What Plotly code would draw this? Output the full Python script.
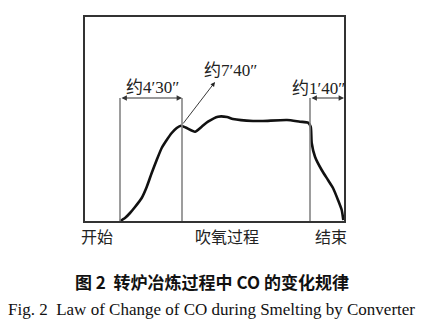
import plotly.graph_objects as go

# CO concentration curve during converter smelting (schematic units)
curve_x = [35, 40, 45, 50, 56.7, 61.7, 66.7, 71.7, 76.7, 81.7, 86.7, 91.7, 96, 101.7,
           110, 116.7, 123, 133, 142, 148, 168, 178, 202, 215, 223, 225.7, 226.7, 230,
           236.7, 243, 248, 253, 256.7, 258.3]
curve_y = [0, 3, 8, 14, 23, 34, 48, 61, 73, 81, 88, 93, 95.3, 93,
           89.3, 94.3, 99.3, 104.3, 104, 102, 100, 100, 101, 99.3, 98.3, 94.3, 78, 64.3,
           51, 41, 33, 21, 11, 1]

# stage boundaries
stage_x = [35, 97, 225]
x_end = 259
dim_y = 123

x_labels = ["开始", "吹氧过程", "结束"]
x_label_pos = [12, 142, 246]
interval_labels = ["约4′30″", "约7′40″", "约1′40″"]

SERIF = "Liberation Serif, Noto Sans CJK SC, serif"
TXT = "#222222"

fig = go.Figure()
fig.add_trace(go.Scatter(
    x=curve_x, y=curve_y, mode="lines",
    line=dict(color="#111111", width=2.6, shape="spline", smoothing=0.6),
    hoverinfo="skip", showlegend=False))

shapes = []
for sx in stage_x:
    shapes.append(dict(type="line", xref="x", yref="y", x0=sx, x1=sx, y0=0, y1=dim_y,
                       line=dict(color="#858585", width=1.6)))

ann = []
# dimension arrows
for (a, b) in [(stage_x[0], stage_x[1]), (stage_x[2], x_end)]:
    ann.append(dict(x=b, y=dim_y, ax=a, ay=dim_y, xref="x", yref="y", axref="x", ayref="y",
                    text="", showarrow=True, arrowhead=2, arrowside="end+start",
                    arrowsize=0.9, arrowwidth=1.2, arrowcolor="#333333", standoff=0, startstandoff=0))
# pointer to the first peak
ann.append(dict(x=130, y=139, ax=97, ay=96, xref="x", yref="y", axref="x", ayref="y",
                text="", showarrow=True, arrowhead=2, arrowsize=1.0, arrowwidth=0.9,
                arrowcolor="#222222", standoff=0))

lab_font = dict(family=SERIF, size=17, color=TXT)
ann.append(dict(x=67, y=134, xref="x", yref="y", text=interval_labels[0], showarrow=False,
                font=lab_font, yanchor="middle"))
ann.append(dict(x=145, y=151, xref="x", yref="y", text=interval_labels[1], showarrow=False,
                font=lab_font, yanchor="middle"))
ann.append(dict(x=233, y=133, xref="x", yref="y", text=interval_labels[2], showarrow=False,
                font=lab_font, yanchor="middle"))

for lab, px in zip(x_labels, x_label_pos):
    ann.append(dict(x=px, y=-0.083, xref="x", yref="paper", text=lab, showarrow=False,
                    xanchor="center", yanchor="middle",
                    font=dict(family=SERIF, size=16, color=TXT)))

ann.append(dict(x=-20, y=94, xref="x", yref="y", text="CO浓度", textangle=-90, showarrow=False,
                xanchor="center", yanchor="middle",
                font=dict(family=SERIF, size=16, color=TXT)))

ann.append(dict(x=0.49, y=-0.299, xref="paper", yref="paper", xanchor="center", yanchor="middle",
                text="<b>图 2  转炉冶炼过程中 CO 的变化规律</b>", showarrow=False,
                font=dict(family="Noto Sans CJK SC, sans-serif", size=17, color="#111111")))
ann.append(dict(x=0.488, y=-0.436, xref="paper", yref="paper", xanchor="center", yanchor="middle",
                text="Fig. 2  Law of Change of CO during Smelting by Converter", showarrow=False,
                font=dict(family="Liberation Serif, serif", size=17, color="#111111")))

fig.update_layout(
    width=422, height=323,
    margin=dict(l=85, r=78, t=17, b=102),
    paper_bgcolor="white", plot_bgcolor="white",
    shapes=shapes, annotations=ann,
    xaxis=dict(range=[0, x_end], showgrid=False, zeroline=False, showticklabels=False,
               ticks="", showline=True, mirror=True, linecolor="#333333", linewidth=1.5),
    yaxis=dict(range=[0, 204], showgrid=False, zeroline=False, showticklabels=False,
               ticks="", showline=True, mirror=True, linecolor="#333333", linewidth=1.5),
)

fig.write_html("out.html")
